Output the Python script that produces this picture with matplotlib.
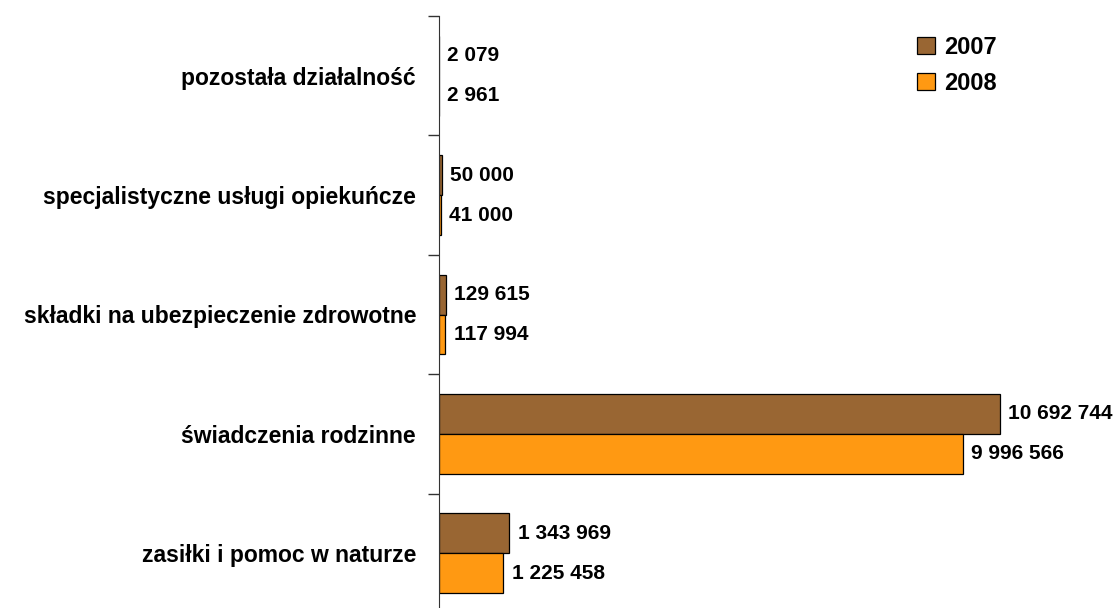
import numpy as np
import matplotlib.pyplot as plt

# dane (od dołu wykresu)
categories = ["zasiłki i pomoc w naturze", "świadczenia rodzinne",
              "składki na ubezpieczenie zdrowotne",
              "specjalistyczne usługi opiekuńcze", "pozostała działalność"]
v2007 = [1343969, 10692744, 129615, 50000, 2079]
v2008 = [1225458, 9996566, 117994, 41000, 2961]
years = ["2007", "2008"]
colors = ["#996633", "#FF9912"]

plt.rcParams['font.family'] = ['Liberation Sans', 'DejaVu Sans']
plt.rcParams['font.weight'] = 'bold'

fig = plt.figure(figsize=(11.17, 6.08), dpi=100)
W, H = 1117.0, 608.0
ax = fig.add_axes([439 / W, -5 / H, (1117 - 439) / W, (613 - 16) / H])

y = np.arange(len(categories))
h = 0.335
b1 = ax.barh(y + h / 2, v2007, height=h, color=colors[0], edgecolor='black', linewidth=0.9, label=years[0])
b2 = ax.barh(y - h / 2, v2008, height=h, color=colors[1], edgecolor='black', linewidth=0.9, label=years[1])

def fmt(v):
    return "{:,}".format(v).replace(",", " ")

for bars, vals in [(b1, v2007), (b2, v2008)]:
    for bar, v in zip(bars, vals):
        ax.annotate(fmt(v), (bar.get_width(), bar.get_y() + bar.get_height() / 2),
                    xytext=(6, 0), textcoords='offset points', va='center', ha='left',
                    fontsize=15, fontweight='bold')

ax.set_xlim(0, 12934000)
ax.set_ylim(-0.5, len(categories) - 0.5)
for s in ['top', 'right', 'bottom']:
    ax.spines[s].set_visible(False)
ax.spines['left'].set_color('#333333')
ax.set_xticks([])
ax.set_yticks(y)
ax.set_yticklabels(categories, fontsize=16.5, fontweight='bold')
ax.tick_params(axis='y', which='major', length=0, pad=16.5)
ax.set_yticks(np.arange(len(categories) + 1) - 0.5, minor=True)
ax.tick_params(axis='y', which='minor', length=8, width=1, color='#333333')

fig.legend(loc='upper left', bbox_to_anchor=(917 / W, 1 - 36 / H), frameon=False,
           prop={'size': 17, 'weight': 'bold'}, handlelength=0.75, handleheight=0.75,
           handletextpad=0.4, labelspacing=0.55, borderpad=0, borderaxespad=0)

fig.savefig("out.png", dpi=100)
